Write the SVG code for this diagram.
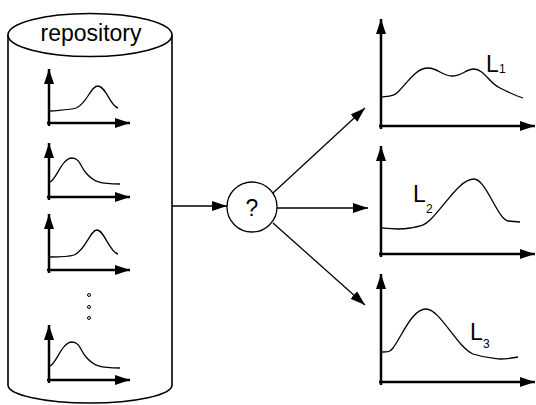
<svg xmlns="http://www.w3.org/2000/svg" width="536" height="405" viewBox="0 0 536 405">
<style>
.ax{stroke:#000;stroke-width:2.5;fill:none}
.cv{stroke:#000;stroke-width:1.3;fill:none}
.ln{stroke:#000;stroke-width:1.3;fill:none}
.cyl{stroke:#000;stroke-width:1.6;fill:#fff}
.t{font-family:"Liberation Sans",Arial,sans-serif;fill:#000}
</style>
<defs>
<marker id="ah" markerUnits="userSpaceOnUse" markerWidth="16" markerHeight="11" refX="15" refY="5" orient="auto">
<path d="M0,0 L15,5 L0,10 Z" fill="#000"/>
</marker>
</defs>
<g id="repository">
<path class="cyl" d="M8,35 L8,385 A82,18 0 0 0 172,385 L172,35"/>
<ellipse class="cyl" cx="90" cy="35" rx="82" ry="21.5"/>
<text class="t" x="91" y="41" font-size="23" text-anchor="middle">repository</text>
</g>
<g id="chart-r1">
<path class="ax" d="M49,126 V69" marker-end="url(#ah)"/>
<path class="ax" d="M47,123 H130" marker-end="url(#ah)"/>
<path class="cv" d="M50,111 C60,110 70,110 76,108 C88,103 90,86 98,86 C106,86 110,106 118,108"/>
</g>
<g id="chart-r2">
<path class="ax" d="M49,200 V143" marker-end="url(#ah)"/>
<path class="ax" d="M47,197 H130" marker-end="url(#ah)"/>
<path class="cv" d="M50,182 C56,180 62,158 72,158 C80,158 81,168 86,173 C94,182 100,184 120,184"/>
</g>
<g id="chart-r3">
<path class="ax" d="M49,273 V214" marker-end="url(#ah)"/>
<path class="ax" d="M47,270 H130" marker-end="url(#ah)"/>
<path class="cv" d="M50,257 C60,257 68,257 74,255 C86,250 90,230 97,230 C104,230 110,253 118,254"/>
</g>
<g id="dots">
<circle cx="89" cy="295" r="1.5" fill="none" stroke="#000" stroke-width="1"/>
<circle cx="89" cy="307" r="1.5" fill="none" stroke="#000" stroke-width="1"/>
<circle cx="89" cy="318" r="1.5" fill="none" stroke="#000" stroke-width="1"/>
</g>
<g id="chart-r4">
<path class="ax" d="M49,383 V325" marker-end="url(#ah)"/>
<path class="ax" d="M47,380 H130" marker-end="url(#ah)"/>
<path class="cv" d="M50,366 C56,364 62,342 72,342 C80,342 81,352 86,357 C94,366 100,368 120,368"/>
</g>
<g id="classifier">
<circle cx="252" cy="207" r="25" fill="#fff" stroke="#000" stroke-width="1.3"/>
<text class="t" x="252" y="216" font-size="23" text-anchor="middle">?</text>
</g>
<g id="connectors">
<path class="ln" d="M172,206 H227" marker-end="url(#ah)"/>
<path class="ln" d="M277,208 H368" marker-end="url(#ah)"/>
<path class="ln" d="M273,193 L365,108" marker-end="url(#ah)"/>
<path class="ln" d="M273,223 L365,305" marker-end="url(#ah)"/>
</g>
<g id="chart-L1">
<path class="ax" d="M381,129 V19" marker-end="url(#ah)"/>
<path class="ax" d="M379,126 H535" marker-end="url(#ah)"/>
<path class="cv" d="M382,97 C390,96 394,96 398,92 C408,82 416,68 428,68 C438,68 442,76 452,76 C462,76 466,69 474,69 C484,69 490,84 500,88 C508,92 516,96 523,98"/>
<text class="t" x="486" y="72" font-size="23">L</text>
<text class="t" x="499" y="73" font-size="12">1</text>
</g>
<g id="chart-L2">
<path class="ax" d="M381,257 V146" marker-end="url(#ah)"/>
<path class="ax" d="M379,254 H535" marker-end="url(#ah)"/>
<path class="cv" d="M382,228 C392,229 400,230 410,228 C420,226 424,226 430,220 C446,204 460,179 474,179 C486,179 498,220 508,221 L520,222"/>
<text class="t" x="413" y="202" font-size="23">L</text>
<text class="t" x="426" y="213" font-size="12">2</text>
</g>
<g id="chart-L3">
<path class="ax" d="M381,385 V274" marker-end="url(#ah)"/>
<path class="ax" d="M379,382 H535" marker-end="url(#ah)"/>
<path class="cv" d="M382,352 C388,352 390,352 393,348 C402,336 412,309 426,309 C440,309 456,346 473,354 C485,358 490,358 500,359 C508,359 512,358 518,357"/>
<text class="t" x="470" y="340" font-size="23">L</text>
<text class="t" x="483" y="348" font-size="12">3</text>
</g>
</svg>
